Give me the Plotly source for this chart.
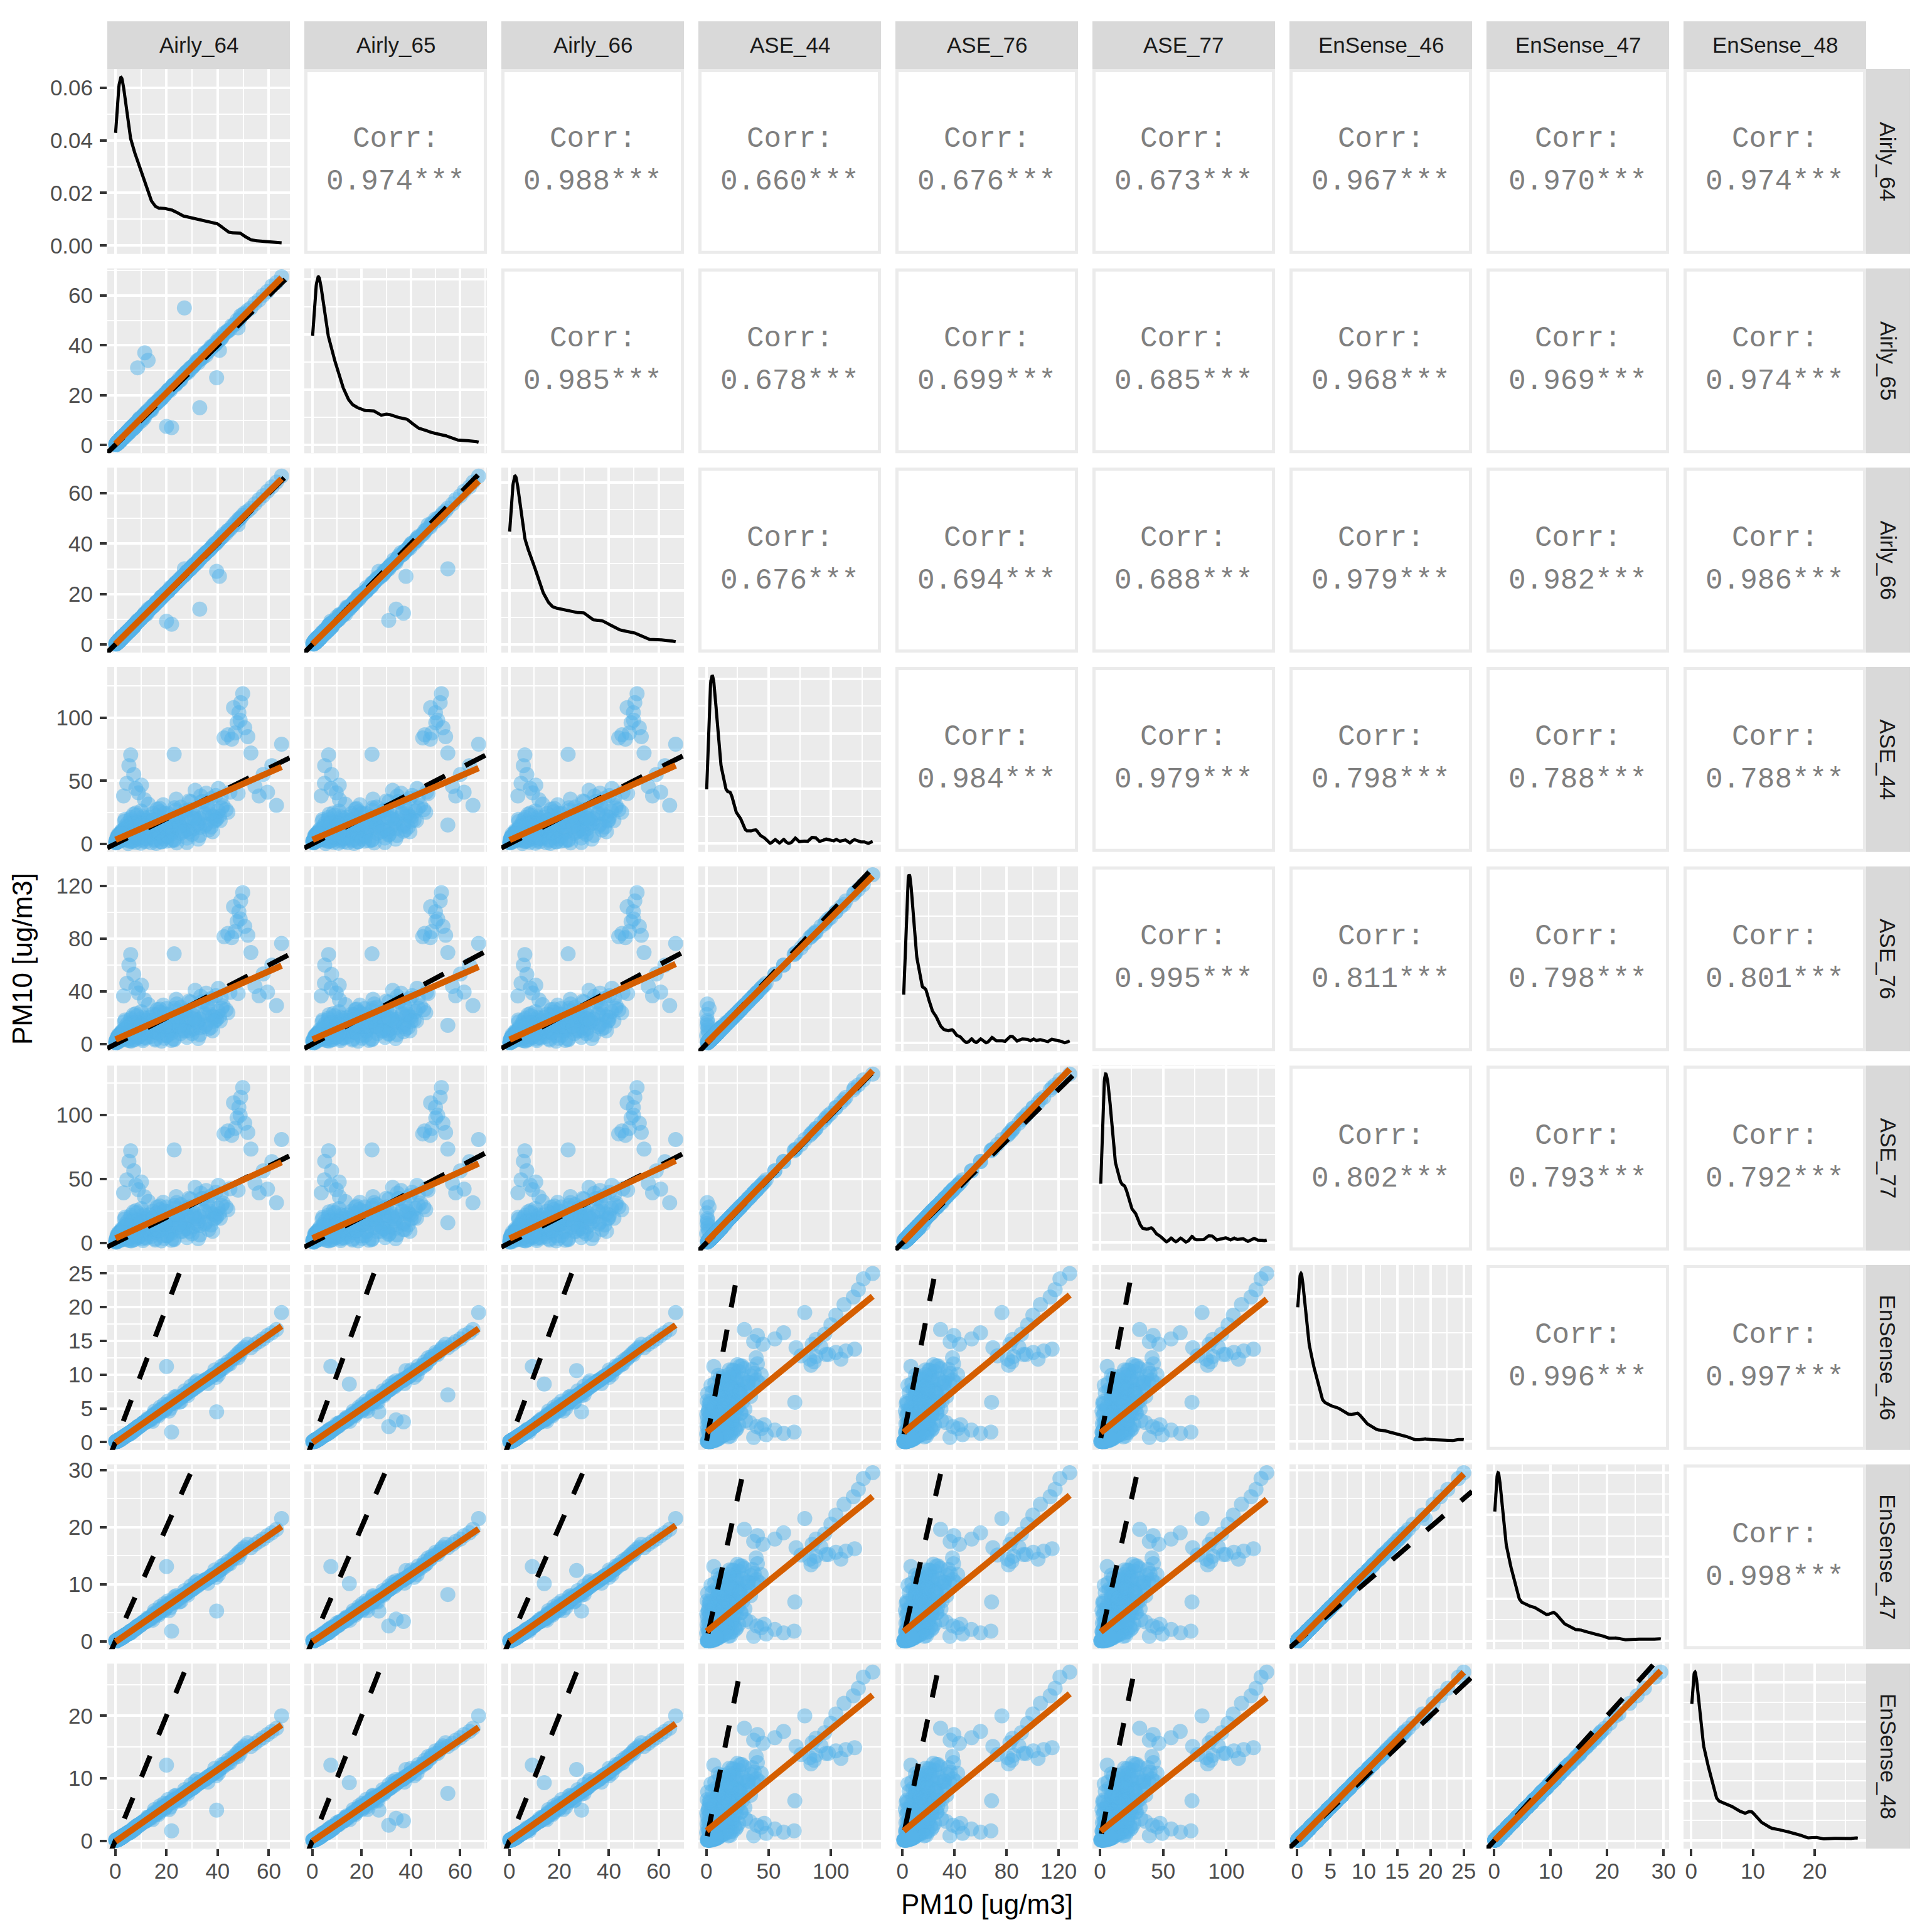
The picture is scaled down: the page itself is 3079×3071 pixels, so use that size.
import numpy as np
import plotly.graph_objects as go

VARS = ["Airly_64", "Airly_65", "Airly_66", "ASE_44", "ASE_76", "ASE_77",
        "EnSense_46", "EnSense_47", "EnSense_48"]

# PM10 readings per sensor, one entry per time step (None = sensor missing)
AIRLY_64 = [
    0.8, 1.2, 1.5, 1.9, 2.2, 2.5, 1.0, 1.7, 2.8, 3.1,
    1.4, 2.0, 2.3, 2.6, 3.0, 3.4, 3.8, 1.1, 2.1, 2.9,
    3.3, 3.6, 4.0, 4.4, 4.8, 5.2, 5.6, 3.9, 4.6, 5.9,
    6.2, 6.8, 7.3, 7.9, 8.4, 5.5, 6.5, 7.1, 8.8, 9.3,
    9.8, 10.4, 11.0, 11.7, 12.3, 9.5, 10.9, 12.8, 13.4, 8.6,
    13.9, 14.6, 15.3, 16.0, 16.8, 17.5, 18.3, 19.1, 14.2, 16.4,
    19.8, 20.6, 21.5, 22.4, 23.2, 24.1, 25.0, 18.7, 21.0, 23.8,
    26.0, 27.1, 28.3, 29.5, 30.8, 32.0, 33.4, 25.6, 27.9, 31.2,
    34.8, 36.2, 37.5, 38.9, 40.3, 41.6, 35.5, 39.4, 30.1, 28.8,
    42.5, 44.0, 45.5, 46.8, 47.6, 48.3, 49.0, 49.8, 50.6, 51.8,
    46.2, 48.8, 53.0, 54.6, 56.2, 57.8, 59.5, 61.2, 63.0, 65.0,
    4.5, 5.3, 6.0, 7.2, 8.0, 9.0, 3.2, 10.2, 11.4, 23.0,
    5.0, 8.0, 10.0, 12.0, 14.0, 16.0, 18.0, 20.0, 24.0, 28.0,
    None, None, None, None, None, None, None, None, None, None,
    26.5, 29.0, 32.5, 35.0, 38.0, 41.0, 44.0, 36.5, 33.0, 30.0,
    0.3, 0.6, 1.3, 1.6, 2.4, 2.7, 3.5, 0.9, 1.8, 2.2,
    4.2, 4.9, 5.8, 6.4, 7.6, 8.2, 9.6, 3.7, 5.0, 7.0,
    8.7, 11.5, 12.8, 27.0, 22.0, 20.0, 39.6, 33.0, 40.7, 48.0,
    0.5, 1.1, 1.4, 1.8, 2.0, 2.3, 2.6, 3.0, 1.6, 2.1,
    0.4, 0.7, 1.0, 1.3, 1.5, 1.7, 2.0, 2.4, 2.6, 3.2,
    0.6, 0.9, 1.2, 1.4, 1.8, 2.1, 2.3, 2.7, 1.1, 1.9,
    0.2, 0.5, 0.8, 1.0, 1.3, 1.6, 1.9, 2.2, 2.5, 2.8,
    3.0, 3.3, 3.6, 3.9, 4.2, 4.5, 4.8, 1.2, 1.7, 2.4,
    0.7, 1.5, 2.0, 2.7, 3.4, 4.1, 4.7, 0.4, 1.1, 3.8,
    5.1, 5.4, 5.7, 6.1, 6.6, 7.0, 7.5, 8.1, 8.7, 2.9,
    9.2, 9.9, 10.6, 11.3, 11.9, 5.3, 6.3, 7.4, 8.5, 9.7,
    5.9, 6.9, 7.8, 8.9, 10.1, 11.1, 11.8, 6.0, 7.2, 8.3,
    5.6, 6.7, 7.7, 9.4, 10.8, 11.5, 6.4, 8.0, 9.0, 10.3,
    12.2, 13.0, 13.8, 14.7, 15.6, 16.5, 17.4, 18.4, 19.5, 20.6,
    21.7, 22.9, 24.2, 12.6, 14.0, 15.1, 16.2, 17.8, 19.0, 23.5,
    4.4, 5.8, 7.1, 8.6, 10.0, 11.6, 13.2, 14.5, 12.9, 3.6,
    15.5, 18.0, 20.5, 23.0, 25.5, 28.0, 30.5, 33.0, 35.5, 38.0,
    16.8, 19.4, 21.9, 24.6, 27.2, 29.9, 32.4, 34.9, 37.4, 40.2,
    0.1, 0.3, 0.5, 0.7, 0.9, 1.1, 1.3, 1.5, 1.8, 2.0,
    0.2, 0.4, 0.6, 0.8, 1.0, 1.2, 1.4, 1.7, 2.1, 2.6,
    20.8, 23.6, 26.3, 29.2, 31.8, 34.3, 36.9, 39.3, 42.1, 44.8,
    22.2, 25.1, 27.6, 30.9, 33.7, 36.0, 38.6, 41.4, 43.3, 19.2,
]
AIRLY_65 = [
    1.0, 1.5, 1.3, 2.4, 2.0, 3.1, 0.7, 2.2, 3.0, 3.6,
    1.8, 1.7, 2.8, 2.9, 3.5, 3.2, 4.3, 1.4, 2.6, 2.7,
    3.0, 4.1, 4.5, 4.0, 5.4, 5.0, 6.3, 4.2, 5.1, 6.5,
    6.9, 6.4, 8.0, 8.6, 9.2, 6.1, 7.3, 6.6, 9.5, 10.4,
    10.5, 9.9, 12.1, 12.4, 13.5, 10.8, 11.6, 13.2, 14.6, 9.0,
    14.8, 15.2, 16.6, 16.9, 17.4, 18.9, 19.0, 20.3, 14.0, 17.5,
    20.9, 21.8, 22.0, 23.9, 24.5, 25.2, 26.6, 19.3, 22.4, 24.6,
    27.3, 28.6, 29.0, 31.1, 32.0, 33.9, 34.5, 26.1, 29.4, 32.6,
    36.5, 37.4, 39.6, 40.2, 42.5, 43.0, 36.0, 41.3, 31.5, 30.0,
    44.8, 45.6, 47.9, 48.5, 50.1, 50.0, 51.9, 52.4, 53.0, 54.1,
    48.0, 50.9, 55.0, 56.9, 58.2, 60.1, 61.6, 63.8, 65.2, 67.5,
    4.9, 5.0, 6.6, 7.8, 7.6, 9.7, 3.6, 10.9, 11.0, 24.2,
    5.4, 8.7, 10.6, 12.9, 14.4, 16.9, 18.6, 21.2, 25.1, 29.4,
    None, None, None, None, None, None, None, None, None, None,
    27.8, 30.6, 33.1, 37.0, 39.4, 42.3, 46.0, 37.8, 34.6, 31.2,
    0.5, 0.9, 1.0, 2.0, 2.1, 3.2, 3.3, 1.3, 1.5, 2.7,
    4.6, 5.5, 5.5, 7.0, 8.3, 8.0, 10.3, 4.1, 5.6, 7.5,
    31.0, 37.0, 34.0, 55.0, 7.0, 7.5, 27.0, 15.0, 38.0, 47.0,
    0.8, 1.4, 1.2, 2.2, 1.8, 2.7, 2.5, 3.4, 1.9, 2.4,
    0.6, 1.0, 0.8, 1.7, 1.3, 2.1, 2.3, 2.2, 3.0, 3.5,
    0.9, 1.2, 1.0, 1.8, 2.1, 1.9, 2.8, 3.1, 1.5, 2.3,
    0.4, 0.3, 1.1, 1.3, 1.0, 1.9, 2.3, 1.9, 2.9, 3.2,
    3.4, 3.0, 4.0, 4.4, 3.9, 5.0, 5.2, 1.5, 1.4, 2.8,
    0.9, 1.8, 1.7, 3.1, 3.8, 4.5, 4.4, 0.6, 1.4, 4.2,
    5.6, 5.0, 6.3, 6.5, 7.3, 6.7, 8.2, 8.6, 9.4, 3.3,
    9.8, 10.6, 11.5, 11.9, 12.8, 5.8, 6.9, 7.9, 9.1, 10.1,
    6.3, 7.5, 7.4, 9.6, 10.8, 11.0, 12.7, 6.6, 7.8, 8.1,
    6.0, 7.2, 8.4, 9.1, 11.5, 12.3, 6.9, 8.6, 9.8, 10.9,
    12.9, 13.8, 14.1, 15.9, 16.3, 17.6, 18.0, 19.5, 20.4, 21.9,
    22.8, 24.3, 25.4, 13.4, 14.5, 16.2, 16.8, 18.9, 20.1, 24.4,
    4.9, 6.3, 6.8, 9.3, 10.7, 12.5, 13.9, 15.6, 13.4, 4.0,
    16.3, 18.6, 21.6, 24.1, 26.4, 29.5, 31.6, 34.4, 37.0, 39.6,
    17.9, 20.2, 23.0, 25.4, 28.6, 31.0, 33.8, 36.5, 38.9, 41.8,
    0.3, 0.2, 0.8, 0.6, 1.2, 1.0, 1.6, 1.3, 2.1, 1.8,
    0.1, 0.6, 0.4, 1.1, 0.9, 1.5, 1.2, 2.0, 2.4, 2.9,
    21.9, 24.2, 27.8, 30.1, 33.4, 35.2, 38.6, 40.5, 43.9, 46.3,
    23.5, 26.0, 29.1, 32.2, 34.9, 37.8, 40.1, 43.0, 45.2, 20.1,
]
AIRLY_66 = [
    0.9, 1.4, 1.8, 2.0, 2.6, 2.4, 1.2, 1.5, 3.3, 3.0,
    1.2, 2.3, 2.1, 3.0, 3.3, 3.7, 4.0, 0.9, 2.4, 3.2,
    3.5, 3.4, 4.3, 4.8, 4.6, 5.6, 5.9, 3.7, 4.9, 6.2,
    6.0, 7.2, 7.1, 8.3, 8.9, 5.3, 6.9, 7.6, 9.1, 9.8,
    10.0, 10.9, 11.3, 12.2, 12.0, 9.9, 11.4, 13.5, 13.8, 8.9,
    14.3, 15.0, 15.7, 16.8, 17.3, 17.9, 19.1, 19.6, 14.9, 16.8,
    20.5, 21.0, 22.6, 22.9, 24.0, 24.8, 25.9, 19.4, 21.6, 24.5,
    26.9, 27.5, 29.1, 30.0, 31.8, 32.4, 34.2, 26.3, 28.6, 32.0,
    35.6, 37.0, 38.2, 40.1, 41.2, 42.8, 36.4, 40.0, 31.0, 29.5,
    43.9, 45.2, 46.6, 48.2, 48.9, 49.8, 50.4, 51.3, 52.2, 53.0,
    47.3, 49.9, 54.1, 55.8, 57.5, 59.0, 60.8, 62.5, 64.4, 66.8,
    4.7, 5.6, 6.2, 7.0, 8.4, 9.3, 3.4, 10.6, 11.9, 23.6,
    5.2, 8.3, 10.4, 12.3, 14.8, 16.5, 18.9, 20.7, 24.6, 28.9,
    None, None, None, None, None, None, None, None, None, None,
    27.2, 29.8, 33.6, 35.9, 39.0, 42.0, 45.1, 37.2, 33.8, 30.9,
    0.4, 0.5, 1.6, 1.4, 2.8, 2.5, 3.8, 0.7, 2.1, 2.0,
    4.0, 5.2, 6.1, 6.2, 7.9, 8.7, 9.9, 3.9, 4.8, 7.3,
    9.5, 12.4, 14.0, 30.0, 8.0, 9.2, 29.0, 14.0, 27.0, 47.5,
    0.6, 0.9, 1.7, 1.6, 2.3, 2.1, 2.9, 3.2, 1.4, 2.3,
    0.3, 0.8, 1.3, 1.1, 1.8, 1.5, 2.2, 2.7, 2.4, 3.4,
    0.5, 1.1, 1.5, 1.2, 2.0, 2.4, 2.1, 2.9, 0.9, 1.7,
    0.1, 0.7, 0.6, 1.2, 1.6, 1.4, 2.2, 2.5, 2.3, 3.1,
    2.8, 3.6, 3.4, 4.1, 4.6, 4.3, 5.1, 1.0, 1.9, 2.2,
    0.6, 1.3, 2.3, 2.5, 3.2, 4.4, 5.0, 0.3, 0.9, 3.6,
    5.3, 5.7, 5.4, 6.4, 6.9, 7.4, 7.3, 8.5, 8.9, 2.7,
    9.5, 10.2, 10.9, 11.8, 12.3, 5.1, 6.6, 7.7, 8.8, 10.0,
    6.1, 6.6, 8.2, 9.2, 10.4, 11.7, 12.1, 5.8, 7.5, 8.7,
    5.4, 7.0, 8.0, 9.8, 11.0, 11.9, 6.2, 8.4, 9.3, 10.6,
    12.6, 13.4, 14.4, 15.1, 16.2, 16.9, 18.1, 18.8, 20.3, 21.2,
    22.3, 23.6, 24.9, 13.0, 14.6, 15.5, 16.9, 18.3, 19.7, 24.2,
    4.2, 6.0, 7.5, 8.9, 10.5, 11.9, 13.8, 14.9, 13.3, 3.8,
    15.9, 18.8, 21.0, 23.7, 26.1, 28.9, 31.2, 33.9, 36.4, 39.0,
    17.2, 19.9, 22.5, 25.2, 27.8, 30.6, 33.1, 35.6, 38.3, 41.0,
    0.2, 0.4, 0.3, 0.9, 0.7, 1.3, 1.1, 1.7, 1.6, 2.2,
    0.3, 0.2, 0.8, 0.6, 1.3, 1.0, 1.6, 1.5, 2.3, 2.4,
    21.2, 24.4, 26.9, 29.9, 32.5, 35.3, 37.6, 40.2, 42.9, 45.6,
    22.8, 25.7, 28.4, 31.5, 34.6, 36.9, 39.5, 42.3, 44.0, 19.8,
]
ASE_44 = [
    2.5, 4.0, 5.5, 3.2, 6.8, 7.5, 3.0, 5.0, 8.2, 4.6,
    4.8, 6.2, 3.8, 7.0, 5.6, 9.0, 6.4, 1.8, 5.9, 8.8,
    7.2, 5.3, 9.5, 6.1, 10.8, 4.4, 8.6, 6.8, 12.0, 7.7,
    9.0, 13.5, 6.2, 15.0, 11.2, 3.8, 17.5, 8.4, 14.2, 10.5,
    12.6, 7.5, 16.3, 10.2, 19.0, 14.4, 21.5, 9.8, 17.2, 5.5,
    11.0, 18.5, 8.7, 22.3, 14.8, 25.6, 12.1, 20.4, 16.0, 27.5,
    14.2, 24.0, 9.5, 19.8, 28.6, 12.5, 22.0, 31.0, 17.4, 35.5,
    18.5, 26.0, 11.8, 33.5, 22.4, 15.3, 38.0, 29.2, 20.6, 42.5,
    24.5, 31.0, 36.0, 21.2, 44.0, 28.5, 40.2, 19.0, 26.8, 34.0,
    84.0, 86.5, 83.0, 88.0, 96.0, 104.0, 112.0, 119.0, 92.0, 85.0,
    108.0, 98.0, 72.0, 45.5, 38.0, 55.0, 41.0, 62.0, 30.5, 79.0,
    48.0, 62.0, 70.5, 55.0, 44.0, 40.5, 38.0, 46.5, 35.0, 71.0,
    0.3, 1.2, 0.6, 1.8, 0.9, 0.4, 1.5, 2.2, 0.8, 1.1,
    126.0, 133.5, 118.0, 104.0, 110.5, 95.0, 88.0, 100.0, 122.0, 76.0,
    12.0, 9.5, 16.5, 14.0, 22.0, 18.5, 25.0, 11.0, 20.0, 7.5,
    1.5, 3.5, 4.2, 6.0, 2.8, 9.5, 5.2, 2.2, 7.4, 4.9,
    6.0, 8.2, 11.5, 5.0, 13.0, 9.6, 16.0, 3.6, 7.0, 10.4,
    7.0, 10.0, 12.0, 15.0, 8.0, 6.0, 20.0, 13.0, 22.0, 40.0,
    2.0, 3.3, 6.5, 4.4, 8.0, 3.9, 6.9, 5.6, 4.0, 7.1,
    3.0, 5.8, 2.4, 7.8, 4.6, 6.3, 3.5, 9.2, 5.4, 6.6,
    2.2, 4.5, 6.8, 3.1, 5.2, 8.6, 4.0, 7.2, 3.6, 5.9,
    1.2, 2.6, 5.0, 3.4, 6.2, 2.4, 7.8, 4.3, 10.5, 3.7,
    4.0, 11.5, 6.5, 14.0, 3.2, 8.8, 16.5, 2.0, 5.2, 9.4,
    3.9, 6.0, 2.7, 8.4, 5.1, 12.8, 7.0, 1.0, 4.7, 19.5,
    2.5, 9.8, 4.1, 21.0, 6.3, 11.4, 3.0, 24.5, 8.9, 7.6,
    5.0, 13.2, 3.5, 18.6, 9.0, 14.5, 1.9, 10.8, 22.8, 6.4,
    12.0, 7.2, 17.0, 4.5, 26.0, 11.9, 7.7, 19.4, 2.8, 13.7,
    7.4, 15.8, 5.6, 12.4, 2.2, 20.5, 10.2, 6.5, 16.8, 9.1,
    4.2, 16.5, 7.8, 24.0, 2.6, 13.0, 28.0, 6.0, 18.2, 9.2,
    12.8, 3.4, 20.5, 10.6, 5.3, 19.3, 8.6, 15.2, 3.9, 26.5,
    13.0, 2.0, 23.5, 7.9, 15.6, 4.8, 21.0, 10.4, 31.5, 17.8,
    3.5, 1.8, 6.2, 2.9, 8.4, 4.6, 12.0, 6.8, 15.5, 9.6,
    9.2, 14.0, 2.4, 17.5, 10.5, 20.8, 3.8, 23.5, 13.4, 26.0,
    0.8, 2.1, 3.6, 1.4, 4.8, 2.9, 6.1, 3.3, 5.5, 2.5,
    1.9, 0.9, 2.8, 4.1, 1.6, 5.3, 3.0, 6.6, 4.5, 7.9,
    14.6, 21.8, 9.5, 27.2, 18.4, 33.6, 24.1, 38.4, 30.3, 41.0,
    17.9, 14.2, 26.6, 19.9, 33.5, 29.1, 18.1, 36.8, 27.2, 24.0,
]
ASE_76 = [
    2.2, 3.6, 5.8, 3.5, 6.1, 7.9, 2.6, 4.5, 7.6, 5.0,
    4.3, 6.6, 3.5, 6.4, 5.1, 8.5, 6.9, 1.5, 6.3, 8.1,
    6.8, 5.0, 9.0, 6.6, 10.1, 4.9, 8.1, 7.2, 11.2, 7.3,
    8.5, 12.8, 6.7, 14.1, 10.6, 4.2, 16.4, 8.9, 13.3, 10.0,
    12.0, 7.9, 15.5, 10.8, 18.1, 13.6, 20.4, 10.3, 16.5, 5.9,
    10.4, 17.6, 9.2, 21.5, 14.1, 24.4, 12.8, 19.5, 15.3, 26.2,
    13.6, 22.8, 10.1, 18.9, 27.4, 13.1, 21.1, 29.6, 16.7, 34.0,
    17.6, 24.9, 12.4, 32.0, 21.5, 16.0, 36.3, 28.0, 19.8, 40.8,
    23.4, 29.8, 34.6, 20.5, 42.4, 27.3, 38.7, 18.2, 25.6, 32.6,
    81.5, 84.0, 80.8, 85.5, 93.0, 100.5, 108.6, 115.0, 89.4, 82.6,
    104.2, 95.0, 69.5, 43.8, 36.7, 53.2, 39.5, 60.0, 29.3, 76.4,
    46.2, 60.0, 68.0, 53.0, 42.5, 38.8, 36.5, 44.8, 33.6, 68.5,
    6.5, 11.0, 14.5, 9.0, 18.0, 22.5, 13.0, 27.0, 30.5, 16.5,
    121.0, 128.5, 113.5, 100.2, 106.0, 91.4, 84.6, 96.2, 117.3, 73.0,
    11.4, 10.1, 15.8, 13.2, 21.0, 17.6, 23.8, 11.6, 19.1, 8.0,
    1.2, 3.1, 4.6, 5.5, 3.2, 9.0, 5.7, 2.0, 6.9, 5.3,
    6.4, 7.8, 10.9, 5.4, 12.3, 10.2, 15.1, 4.0, 6.6, 9.8,
    7.5, 9.4, 12.6, 14.3, 8.5, 6.5, 19.2, 12.4, 21.0, 38.5,
    1.7, 3.7, 6.0, 4.8, 7.5, 4.3, 6.4, 5.2, 4.4, 6.7,
    2.7, 5.3, 2.8, 7.2, 5.0, 5.9, 3.9, 8.6, 5.9, 6.2,
    2.6, 4.1, 6.3, 3.6, 4.8, 8.0, 4.5, 6.7, 3.2, 6.4,
    1.0, 2.9, 4.6, 3.8, 5.7, 2.8, 7.2, 4.7, 9.8, 4.1,
    4.4, 10.8, 6.1, 13.2, 3.6, 8.3, 15.6, 2.3, 4.8, 8.9,
    3.5, 6.4, 3.1, 7.9, 5.5, 12.0, 6.6, 1.3, 5.1, 18.4,
    2.9, 9.2, 4.6, 19.8, 6.0, 10.9, 3.5, 23.2, 8.4, 7.1,
    5.5, 12.5, 3.9, 17.7, 8.5, 13.8, 2.4, 10.3, 21.6, 6.9,
    11.4, 7.7, 16.2, 5.0, 24.7, 11.3, 8.2, 18.5, 3.3, 13.0,
    7.9, 15.0, 6.1, 11.8, 2.7, 19.4, 9.7, 7.0, 16.0, 8.6,
    4.7, 15.8, 8.3, 22.8, 3.1, 12.4, 26.6, 6.5, 17.3, 9.8,
    12.2, 3.9, 19.6, 10.1, 5.8, 18.4, 9.1, 14.5, 4.4, 25.3,
    12.3, 2.5, 22.4, 7.4, 14.9, 5.3, 20.0, 9.9, 30.0, 16.9,
    4.0, 2.3, 6.7, 3.4, 8.0, 5.1, 11.4, 7.3, 14.8, 10.1,
    8.7, 13.3, 2.9, 16.7, 10.0, 19.8, 4.3, 22.3, 12.8, 24.8,
    1.1, 2.5, 3.2, 1.8, 4.4, 3.3, 5.7, 3.7, 5.1, 2.9,
    2.3, 1.2, 3.3, 3.7, 2.0, 4.9, 3.4, 6.1, 4.9, 7.4,
    14.0, 20.9, 10.0, 26.0, 17.6, 32.2, 23.1, 36.8, 29.1, 39.3,
    17.0, 13.6, 25.5, 19.1, 32.1, 27.9, 17.4, 35.3, 26.1, 22.9,
]
ASE_77 = [
    2.8, 4.3, 5.2, 3.0, 7.0, 7.2, 3.4, 5.4, 8.0, 4.4,
    5.1, 5.8, 4.1, 7.3, 5.9, 9.3, 6.0, 2.0, 5.5, 9.1,
    7.5, 5.6, 9.8, 5.8, 11.3, 4.1, 9.0, 6.4, 12.5, 8.1,
    9.4, 13.9, 5.9, 15.6, 11.8, 3.5, 17.9, 8.0, 14.8, 11.0,
    13.1, 7.1, 16.9, 9.7, 19.6, 14.9, 22.0, 9.4, 17.8, 5.2,
    11.5, 19.1, 8.3, 22.9, 15.4, 26.1, 11.6, 21.0, 16.6, 28.0,
    14.8, 24.6, 9.0, 20.5, 29.3, 11.9, 22.7, 31.8, 18.0, 36.2,
    19.2, 26.7, 11.2, 34.2, 23.1, 14.6, 38.9, 29.9, 21.3, 43.4,
    25.2, 31.9, 36.8, 21.9, 45.1, 29.4, 41.0, 19.8, 27.5, 34.9,
    85.2, 87.6, 84.1, 89.5, 97.8, 106.0, 113.8, 121.5, 93.6, 86.4,
    109.6, 99.8, 73.4, 46.6, 39.1, 56.3, 42.1, 63.5, 31.4, 80.8,
    49.3, 63.8, 72.0, 56.4, 45.2, 41.6, 39.1, 47.6, 36.1, 72.8,
    7.2, 11.8, 15.3, 9.6, 18.9, 23.4, 13.8, 28.1, 31.6, 17.4,
    127.5, 132.0, 119.6, 105.5, 112.0, 96.3, 89.2, 101.4, 123.5, 77.1,
    12.6, 9.0, 17.2, 14.7, 22.8, 19.3, 25.9, 10.4, 20.8, 7.1,
    1.8, 3.8, 3.9, 6.4, 2.5, 9.8, 4.8, 2.5, 7.8, 4.5,
    5.7, 8.6, 12.1, 4.7, 13.6, 9.1, 16.7, 3.3, 7.4, 10.9,
    6.6, 10.5, 11.5, 15.8, 7.6, 5.7, 20.8, 13.6, 22.9, 41.2,
    2.4, 3.0, 6.9, 4.1, 8.4, 3.6, 7.3, 6.0, 3.7, 7.5,
    3.3, 6.2, 2.1, 8.1, 4.3, 6.7, 3.2, 9.6, 5.1, 7.0,
    1.9, 4.8, 7.3, 2.8, 5.6, 9.0, 3.7, 7.7, 3.9, 5.5,
    1.5, 2.3, 5.4, 3.1, 6.6, 2.1, 8.2, 3.9, 11.0, 3.4,
    3.7, 12.0, 6.9, 14.6, 2.9, 9.2, 17.1, 1.8, 5.6, 9.9,
    4.2, 5.6, 2.4, 8.8, 4.8, 13.3, 7.5, 0.8, 4.3, 20.2,
    2.2, 10.3, 3.8, 21.8, 6.8, 12.0, 2.7, 25.3, 9.5, 8.1,
    4.6, 13.8, 3.2, 19.2, 9.6, 15.1, 1.6, 11.4, 23.7, 6.0,
    12.6, 6.8, 17.7, 4.1, 26.9, 12.5, 7.2, 20.1, 2.5, 14.3,
    7.0, 16.5, 5.2, 13.0, 1.9, 21.3, 10.8, 6.1, 17.5, 9.7,
    3.8, 17.1, 7.3, 24.8, 2.3, 13.6, 28.9, 5.5, 19.0, 8.7,
    13.4, 3.1, 21.3, 11.1, 4.9, 20.0, 8.2, 15.9, 3.5, 27.3,
    13.6, 1.8, 24.3, 8.4, 16.3, 4.4, 21.8, 10.9, 32.4, 18.5,
    3.1, 1.6, 5.8, 2.6, 8.9, 4.2, 12.6, 6.3, 16.2, 9.1,
    9.7, 14.6, 2.1, 18.2, 11.0, 21.6, 3.4, 24.4, 14.0, 27.0,
    0.6, 1.8, 3.9, 1.2, 5.2, 2.6, 6.5, 3.0, 5.9, 2.2,
    1.6, 0.7, 2.5, 4.4, 1.3, 5.7, 2.7, 7.0, 4.2, 8.3,
    15.1, 22.6, 9.1, 28.1, 19.0, 34.7, 24.9, 39.6, 31.2, 42.3,
    18.7, 14.8, 27.5, 20.6, 34.6, 30.0, 18.8, 38.0, 28.1, 24.9,
]
ENSENSE_46 = [
    0.2, 0.3, 0.4, 0.5, 0.5, 0.6, 0.2, 0.4, 0.7, 0.8,
    0.3, 0.4, 0.5, 0.6, 0.7, 0.8, 0.9, 0.2, 0.4, 0.6,
    0.8, 0.8, 1.0, 1.1, 1.2, 1.3, 1.4, 0.9, 1.1, 1.5,
    1.5, 1.7, 1.9, 2.0, 2.2, 1.3, 1.6, 1.8, 2.3, 2.4,
    2.5, 2.7, 2.9, 3.0, 3.2, 2.4, 2.8, 3.3, 3.5, 2.2,
    3.6, 3.1, 4.6, 4.2, 3.9, 5.2, 4.8, 5.6, 3.7, 4.3,
    5.2, 6.1, 5.0, 5.8, 6.7, 6.3, 5.9, 4.9, 4.6, 6.8,
    6.8, 7.6, 6.9, 8.3, 8.0, 9.1, 8.7, 6.0, 7.3, 8.8,
    9.1, 8.7, 9.8, 10.7, 10.0, 11.3, 9.2, 9.6, 7.8, 7.5,
    11.4, 11.9, 12.3, 12.7, 13.0, 13.3, 13.5, 13.8, 14.1, 14.5,
    12.3, 13.0, 14.0, 14.5, 14.9, 15.3, 15.8, 16.2, 16.7, 19.2,
    1.1, 1.3, 1.5, 1.8, 2.0, 2.3, 0.7, 2.6, 2.9, 5.9,
    1.2, 2.0, 2.5, 3.0, 3.5, 4.1, 4.6, 5.1, 6.1, 7.2,
    24.2, 25.0, 21.5, 18.8, 20.4, 16.0, 15.2, 17.4, 22.6, 12.8,
    6.9, 7.6, 8.5, 9.2, 9.9, 10.7, 11.5, 9.5, 8.6, 7.8,
    0.1, 0.1, 0.3, 0.4, 0.5, 0.6, 0.8, 0.2, 0.4, 0.5,
    1.0, 1.2, 1.4, 1.6, 1.9, 2.1, 2.5, 0.9, 1.2, 1.8,
    2.3, 3.0, 3.3, 7.0, 1.5, 11.2, 4.5, 8.6, 10.6, 12.5,
    0.1, 0.2, 0.3, 0.4, 0.4, 0.5, 0.6, 0.7, 0.3, 0.5,
    0.1, 0.2, 0.2, 0.3, 0.3, 0.4, 0.4, 0.5, 0.6, 0.7,
    0.1, 0.2, 0.3, 0.3, 0.4, 0.5, 0.5, 0.6, 0.2, 0.4,
    0.1, 0.1, 0.2, 0.2, 0.3, 0.4, 0.4, 0.5, 0.6, 0.7,
    0.7, 0.8, 0.9, 1.0, 1.0, 1.1, 1.2, 0.2, 0.3, 0.5,
    0.1, 0.3, 0.4, 0.6, 0.8, 0.9, 1.1, 0.1, 0.2, 0.9,
    1.1, 1.2, 1.3, 1.4, 1.6, 1.7, 1.9, 2.0, 2.2, 0.6,
    2.3, 2.5, 2.8, 2.9, 3.1, 1.2, 1.5, 1.8, 2.1, 2.4,
    1.3, 1.6, 1.9, 2.2, 2.6, 2.9, 3.0, 1.4, 1.7, 2.0,
    1.2, 1.5, 1.8, 2.3, 2.7, 2.9, 1.4, 1.9, 2.2, 2.6,
    3.0, 3.5, 3.4, 4.0, 3.9, 4.5, 4.3, 5.0, 4.8, 5.6,
    5.9, 5.7, 6.6, 3.5, 3.3, 4.2, 4.0, 4.9, 4.6, 6.0,
    1.0, 1.4, 1.8, 2.1, 2.5, 3.0, 3.3, 3.8, 3.2, 0.8,
    4.1, 4.6, 5.4, 6.0, 6.5, 7.3, 7.9, 8.7, 9.2, 9.9,
    4.4, 5.0, 5.7, 6.4, 7.1, 7.7, 8.4, 9.1, 9.7, 10.5,
    0.1, 0.1, 0.1, 0.2, 0.2, 0.3, 0.3, 0.4, 0.4, 0.5,
    0.1, 0.1, 0.1, 0.2, 0.2, 0.3, 0.3, 0.4, 0.5, 0.6,
    5.5, 6.2, 6.8, 7.6, 8.2, 8.9, 9.6, 10.2, 10.9, 11.6,
    5.8, 6.5, 7.2, 8.0, 8.8, 9.4, 10.0, 10.8, 11.3, 5.0,
]
ENSENSE_47 = [
    0.3, 0.4, 0.5, 0.6, 0.7, 0.7, 0.3, 0.5, 0.8, 1.0,
    0.4, 0.5, 0.6, 0.7, 0.8, 0.9, 1.1, 0.3, 0.5, 0.7,
    0.9, 1.0, 1.2, 1.3, 1.4, 1.5, 1.7, 1.1, 1.3, 1.8,
    1.8, 2.0, 2.2, 2.4, 2.6, 1.5, 1.9, 2.1, 2.7, 2.9,
    2.9, 3.2, 3.4, 3.5, 3.8, 2.8, 3.3, 3.9, 4.1, 2.6,
    4.2, 3.7, 5.4, 4.9, 4.6, 6.1, 5.6, 6.6, 4.3, 5.0,
    6.1, 7.1, 5.9, 6.8, 7.8, 7.4, 6.9, 5.7, 5.4, 8.0,
    8.0, 8.9, 8.1, 9.7, 9.4, 10.6, 10.2, 7.0, 8.5, 10.3,
    10.7, 10.2, 11.5, 12.5, 11.7, 13.2, 10.8, 11.2, 9.2, 8.8,
    13.4, 14.0, 14.4, 14.9, 15.2, 15.6, 15.8, 16.2, 16.5, 17.0,
    14.4, 15.2, 16.4, 17.0, 17.5, 17.9, 18.5, 19.0, 19.6, 21.5,
    1.3, 1.5, 1.8, 2.1, 2.4, 2.7, 0.9, 3.0, 3.4, 6.9,
    1.4, 2.3, 2.9, 3.5, 4.1, 4.8, 5.4, 6.0, 7.1, 8.4,
    28.5, 29.5, 25.3, 22.1, 24.0, 18.8, 17.9, 20.5, 26.6, 15.1,
    8.1, 8.9, 10.0, 10.8, 11.6, 12.5, 13.5, 11.1, 10.1, 9.1,
    0.1, 0.2, 0.4, 0.5, 0.6, 0.7, 0.9, 0.2, 0.5, 0.6,
    1.2, 1.4, 1.7, 1.9, 2.3, 2.5, 2.9, 1.0, 1.4, 2.1,
    2.7, 3.5, 3.9, 8.2, 1.8, 13.1, 5.3, 10.1, 12.4, 14.6,
    0.2, 0.3, 0.4, 0.5, 0.5, 0.6, 0.7, 0.8, 0.4, 0.6,
    0.1, 0.2, 0.3, 0.4, 0.4, 0.5, 0.5, 0.6, 0.7, 0.8,
    0.2, 0.3, 0.3, 0.4, 0.5, 0.6, 0.6, 0.7, 0.3, 0.5,
    0.1, 0.2, 0.2, 0.3, 0.4, 0.4, 0.5, 0.6, 0.7, 0.8,
    0.8, 0.9, 1.0, 1.1, 1.2, 1.3, 1.4, 0.3, 0.4, 0.6,
    0.2, 0.4, 0.5, 0.7, 0.9, 1.1, 1.3, 0.1, 0.3, 1.0,
    1.3, 1.4, 1.5, 1.7, 1.9, 2.0, 2.2, 2.4, 2.6, 0.7,
    2.7, 2.9, 3.3, 3.4, 3.6, 1.4, 1.8, 2.1, 2.5, 2.8,
    1.5, 1.9, 2.2, 2.6, 3.0, 3.4, 3.5, 1.6, 2.0, 2.3,
    1.4, 1.8, 2.1, 2.7, 3.2, 3.4, 1.6, 2.2, 2.6, 3.0,
    3.5, 4.1, 4.0, 4.7, 4.6, 5.3, 5.0, 5.9, 5.6, 6.6,
    6.9, 6.7, 7.7, 4.1, 3.9, 4.9, 4.7, 5.7, 5.4, 7.0,
    1.2, 1.6, 2.1, 2.5, 2.9, 3.5, 3.9, 4.4, 3.8, 0.9,
    4.8, 5.4, 6.3, 7.0, 7.6, 8.5, 9.2, 10.2, 10.8, 11.6,
    5.1, 5.9, 6.7, 7.5, 8.3, 9.0, 9.8, 10.6, 11.4, 12.3,
    0.1, 0.1, 0.2, 0.2, 0.3, 0.3, 0.4, 0.4, 0.5, 0.6,
    0.1, 0.1, 0.2, 0.2, 0.3, 0.3, 0.4, 0.5, 0.6, 0.7,
    6.4, 7.3, 8.0, 8.9, 9.6, 10.4, 11.2, 11.9, 12.8, 13.6,
    6.8, 7.6, 8.4, 9.4, 10.3, 11.0, 11.7, 12.6, 13.2, 5.9,
]
ENSENSE_48 = [
    0.2, 0.3, 0.4, 0.5, 0.6, 0.7, 0.2, 0.4, 0.8, 0.9,
    0.3, 0.5, 0.5, 0.6, 0.8, 0.9, 1.0, 0.2, 0.5, 0.7,
    0.8, 0.9, 1.1, 1.2, 1.3, 1.4, 1.5, 1.0, 1.2, 1.6,
    1.6, 1.8, 2.1, 2.2, 2.4, 1.4, 1.7, 1.9, 2.5, 2.6,
    2.7, 2.9, 3.1, 3.2, 3.5, 2.6, 3.0, 3.6, 3.8, 2.4,
    3.9, 3.4, 5.0, 4.5, 4.2, 5.6, 5.2, 6.0, 4.0, 4.6,
    5.6, 6.6, 5.4, 6.3, 7.2, 6.8, 6.4, 5.3, 5.0, 7.3,
    7.3, 8.2, 7.5, 9.0, 8.6, 9.8, 9.4, 6.5, 7.9, 9.5,
    9.8, 9.4, 10.6, 11.6, 10.8, 12.2, 9.9, 10.4, 8.4, 8.1,
    12.3, 12.9, 13.3, 13.7, 14.0, 14.4, 14.6, 14.9, 15.2, 15.7,
    13.2, 14.0, 15.1, 15.6, 16.1, 16.5, 17.0, 17.5, 18.0, 20.0,
    1.2, 1.4, 1.6, 1.9, 2.2, 2.5, 0.8, 2.8, 3.1, 6.4,
    1.3, 2.1, 2.7, 3.2, 3.8, 4.4, 5.0, 5.5, 6.6, 7.8,
    26.2, 27.0, 23.2, 20.3, 22.0, 17.3, 16.4, 18.8, 24.4, 13.8,
    7.5, 8.2, 9.2, 9.9, 10.7, 11.6, 12.4, 10.3, 9.3, 8.4,
    0.1, 0.2, 0.3, 0.4, 0.5, 0.6, 0.8, 0.2, 0.4, 0.5,
    1.1, 1.3, 1.5, 1.7, 2.1, 2.3, 2.7, 0.9, 1.3, 1.9,
    2.5, 3.2, 3.6, 7.6, 1.6, 12.1, 4.9, 9.3, 11.4, 13.5,
    0.1, 0.2, 0.3, 0.4, 0.4, 0.5, 0.6, 0.7, 0.3, 0.5,
    0.1, 0.2, 0.2, 0.3, 0.3, 0.4, 0.4, 0.5, 0.6, 0.7,
    0.1, 0.2, 0.3, 0.3, 0.4, 0.5, 0.5, 0.6, 0.2, 0.4,
    0.1, 0.1, 0.2, 0.2, 0.3, 0.4, 0.4, 0.5, 0.6, 0.7,
    0.7, 0.8, 0.9, 1.0, 1.1, 1.2, 1.3, 0.2, 0.3, 0.5,
    0.1, 0.3, 0.4, 0.6, 0.8, 1.0, 1.2, 0.1, 0.2, 0.9,
    1.2, 1.3, 1.4, 1.5, 1.7, 1.8, 2.0, 2.2, 2.4, 0.6,
    2.5, 2.7, 3.0, 3.1, 3.3, 1.3, 1.6, 1.9, 2.3, 2.6,
    1.4, 1.7, 2.0, 2.4, 2.8, 3.1, 3.2, 1.5, 1.8, 2.2,
    1.3, 1.6, 1.9, 2.5, 2.9, 3.1, 1.5, 2.0, 2.4, 2.8,
    3.2, 3.8, 3.7, 4.3, 4.2, 4.9, 4.6, 5.4, 5.2, 6.0,
    6.3, 6.1, 7.1, 3.8, 3.6, 4.5, 4.3, 5.3, 5.0, 6.5,
    1.1, 1.5, 1.9, 2.3, 2.7, 3.2, 3.6, 4.1, 3.5, 0.8,
    4.4, 5.0, 5.8, 6.5, 7.0, 7.9, 8.5, 9.4, 9.9, 10.7,
    4.7, 5.4, 6.2, 6.9, 7.7, 8.3, 9.1, 9.8, 10.5, 11.3,
    0.1, 0.1, 0.1, 0.2, 0.2, 0.3, 0.3, 0.4, 0.4, 0.5,
    0.1, 0.1, 0.1, 0.2, 0.2, 0.3, 0.3, 0.4, 0.5, 0.6,
    5.9, 6.7, 7.3, 8.2, 8.9, 9.6, 10.4, 11.0, 11.8, 12.5,
    6.3, 7.0, 7.8, 8.6, 9.5, 10.2, 10.8, 11.7, 12.2, 5.4,
]

# correlation labels of the upper triangle, row by row
CORR_LABELS = [
    ["0.974***", "0.988***", "0.660***", "0.676***", "0.673***", "0.967***", "0.970***", "0.974***"],
    ["0.985***", "0.678***", "0.699***", "0.685***", "0.968***", "0.969***", "0.974***"],
    ["0.676***", "0.694***", "0.688***", "0.979***", "0.982***", "0.986***"],
    ["0.984***", "0.979***", "0.798***", "0.788***", "0.788***"],
    ["0.995***", "0.811***", "0.798***", "0.801***"],
    ["0.802***", "0.793***", "0.792***"],
    ["0.996***", "0.997***"],
    ["0.998***"],
]

# tick spacing per variable axis
DTICK = {"Airly_64": 20, "Airly_65": 20, "Airly_66": 20, "ASE_44": 50, "ASE_76": 40,
         "ASE_77": 50, "EnSense_46": 5, "EnSense_47": 10, "EnSense_48": 10}

DATA = {
    "Airly_64": AIRLY_64, "Airly_65": AIRLY_65, "Airly_66": AIRLY_66,
    "ASE_44": ASE_44, "ASE_76": ASE_76, "ASE_77": ASE_77,
    "EnSense_46": ENSENSE_46, "EnSense_47": ENSENSE_47, "EnSense_48": ENSENSE_48,
}
DATA = {k: np.array([np.nan if v is None else v for v in vals], dtype=float) for k, vals in DATA.items()}

BW_ADJUST = 0.45
POINT_COLOR = "#56B4E9"
LINE_COLOR = "#D55E00"
TICK_FONT = dict(family="Liberation Sans, Arial, sans-serif", size=35, color="#4D4D4D")
STRIP_FONT = dict(family="Liberation Sans, Arial, sans-serif", size=35, color="#1A1A1A")
CORR_FONT = dict(family="Courier New, Liberation Mono, monospace", size=46, color="#7F7F7F")

# the page body adds an 8px offset, so margins are trimmed to compensate
W, H = 3079, 3071
PW, PH = 2803, 2836
ML, MT = 163, 102
MR, MB = W - ML - PW, H - MT - PH
GAP = 23
N = len(VARS)
CW = (PW - (N - 1) * GAP) / N
CH = (PH - (N - 1) * GAP) / N


def clamp(v):
    return min(1.0, max(0.0, v))


def xdom(c):
    x0 = c * (CW + GAP) / PW
    return [clamp(x0), clamp(x0 + CW / PW)]


def ydom(r):
    top = 1 - r * (CH + GAP) / PH
    return [clamp(top - CH / PH), clamp(top)]


def pad_range(v):
    v = v[~np.isnan(v)]
    lo, hi = v.min(), v.max()
    d = hi - lo
    return [lo - 0.05 * d, hi + 0.05 * d]


def kde(v):
    v = v[~np.isnan(v)]
    n = len(v)
    q75, q25 = np.percentile(v, [75, 25])
    bw = 0.9 * min(v.std(ddof=1), (q75 - q25) / 1.34) * n ** -0.2 * BW_ADJUST
    xs = np.linspace(v.min(), v.max(), 512)
    ys = np.exp(-0.5 * ((xs[:, None] - v[None, :]) / bw) ** 2).sum(axis=1) / (n * bw * np.sqrt(2 * np.pi))
    return xs, ys


def nice_step(top):
    for s in [0.002, 0.005, 0.01, 0.02, 0.05, 0.1, 0.2, 0.5]:
        if top / s <= 4.5:
            return s
    return 1.0


RANGES = {v: pad_range(DATA[v]) for v in VARS}

fig = go.Figure()
layout = {}
shapes = []
annotations = []

for r in range(N):
    for c in range(N):
        k = r * N + c + 1
        xa = "x" if k == 1 else f"x{k}"
        ya = "y" if k == 1 else f"y{k}"
        xv, yv = VARS[c], VARS[r]
        upper = c > r
        grid = not upper

        xaxis = dict(
            domain=xdom(c), anchor=ya, range=RANGES[xv], dtick=DTICK[xv], tick0=0,
            showgrid=grid, gridcolor="white", gridwidth=4, zeroline=False, showline=False,
            minor=dict(dtick=DTICK[xv] / 2, tick0=0, showgrid=grid, gridcolor="white", gridwidth=2),
            showticklabels=(r == N - 1), ticks="outside" if r == N - 1 else "",
            ticklen=11, tickwidth=4, tickcolor="#333333", tickfont=TICK_FONT, ticklabelstandoff=-6,
            automargin=False,
        )
        yaxis = dict(
            domain=ydom(r), anchor=xa, dtick=DTICK[yv], tick0=0, range=RANGES[yv],
            showgrid=grid, gridcolor="white", gridwidth=4, zeroline=False, showline=False,
            minor=dict(dtick=DTICK[yv] / 2, tick0=0, showgrid=grid, gridcolor="white", gridwidth=2),
            showticklabels=(c == 0), ticks="outside" if c == 0 else "",
            ticklen=11, tickwidth=4, tickcolor="#333333", tickfont=TICK_FONT, ticklabelstandoff=4,
            automargin=False,
        )

        if r == c:
            xs, ys = kde(DATA[xv])
            top = ys.max()
            step = nice_step(top)
            yaxis.update(range=[-0.05 * top, 1.05 * top], dtick=step, tickformat=".2f",
                         minor=dict(dtick=step / 2, tick0=0, showgrid=True, gridcolor="white", gridwidth=2))
            fig.add_trace(go.Scatter(x=xs, y=ys, mode="lines", xaxis=xa, yaxis=ya,
                                     line=dict(color="black", width=5), hoverinfo="skip"))
        elif r > c:
            x, y = DATA[xv], DATA[yv]
            m = ~np.isnan(x) & ~np.isnan(y)
            x, y = x[m], y[m]
            fig.add_trace(go.Scatter(x=x, y=y, mode="markers", xaxis=xa, yaxis=ya,
                                     marker=dict(color=POINT_COLOR, size=24, opacity=0.5, line=dict(width=0))))
            # 1:1 reference line
            ref = np.array(RANGES[xv])
            fig.add_trace(go.Scatter(x=ref, y=ref, mode="lines", xaxis=xa, yaxis=ya,
                                     line=dict(color="black", width=8, dash="36px,36px"), hoverinfo="skip"))
            slope, icpt = np.polyfit(x, y, 1)
            xl = np.array([x.min(), x.max()])
            fig.add_trace(go.Scatter(x=xl, y=icpt + slope * xl, mode="lines", xaxis=xa, yaxis=ya,
                                     line=dict(color=LINE_COLOR, width=10), hoverinfo="skip"))
        else:
            # correlation panel: white box with light border, drawn in paper coords
            x0, x1 = xdom(c)
            y0, y1 = ydom(r)
            ix, iy = 2.5 / PW, 2.5 / PH
            shapes.append(dict(type="rect", xref="paper", yref="paper",
                               x0=x0 + ix, x1=x1 - ix, y0=y0 + iy, y1=y1 - iy,
                               fillcolor="white", line=dict(color="#EBEBEB", width=5), layer="above"))
            label = CORR_LABELS[r][c - r - 1]
            for txt, shift in (("Corr:", 35), (label, -33)):
                annotations.append(dict(text=txt, xref="paper", yref="paper",
                                        x=(x0 + x1) / 2, y=(y0 + y1) / 2, yshift=shift,
                                        showarrow=False, font=CORR_FONT,
                                        xanchor="center", yanchor="middle"))

        layout["xaxis" if k == 1 else f"xaxis{k}"] = xaxis
        layout["yaxis" if k == 1 else f"yaxis{k}"] = yaxis

# facet strips
STRIP_H = 76 / PH
STRIP_W = 70 / PW
for i, name in enumerate(VARS):
    x0, x1 = xdom(i)
    shapes.append(dict(type="rect", xref="paper", yref="paper", x0=x0, x1=x1, y0=1, y1=1 + STRIP_H,
                       fillcolor="#D9D9D9", line=dict(width=0)))
    annotations.append(dict(text=name, xref="paper", yref="paper", x=(x0 + x1) / 2, y=1 + STRIP_H / 2,
                            showarrow=False, font=STRIP_FONT, xanchor="center", yanchor="middle"))
    y0, y1 = ydom(i)
    shapes.append(dict(type="rect", xref="paper", yref="paper", x0=1, x1=1 + STRIP_W, y0=y0, y1=y1,
                       fillcolor="#D9D9D9", line=dict(width=0)))
    annotations.append(dict(text=name, xref="paper", yref="paper", x=1 + STRIP_W / 2, y=(y0 + y1) / 2,
                            showarrow=False, font=STRIP_FONT, textangle=90,
                            xanchor="center", yanchor="middle"))

TITLE_FONT = dict(family="Liberation Sans, Arial, sans-serif", size=44, color="black")
annotations.append(dict(text="PM10 [ug/m3]", xref="paper", yref="paper", x=0.5, y=-88 / PH,
                        showarrow=False, font=TITLE_FONT, xanchor="center", yanchor="middle"))
annotations.append(dict(text="PM10 [ug/m3]", xref="paper", yref="paper", x=-136 / PW, y=0.5,
                        showarrow=False, font=TITLE_FONT, textangle=-90, xanchor="center", yanchor="middle"))

fig.update_layout(**layout)
fig.update_layout(
    width=W, height=H,
    margin=dict(l=ML, r=MR, t=MT, b=MB),
    plot_bgcolor="#EBEBEB", paper_bgcolor="white",
    showlegend=False, shapes=shapes, annotations=annotations,
)

fig.write_html("out.html")
